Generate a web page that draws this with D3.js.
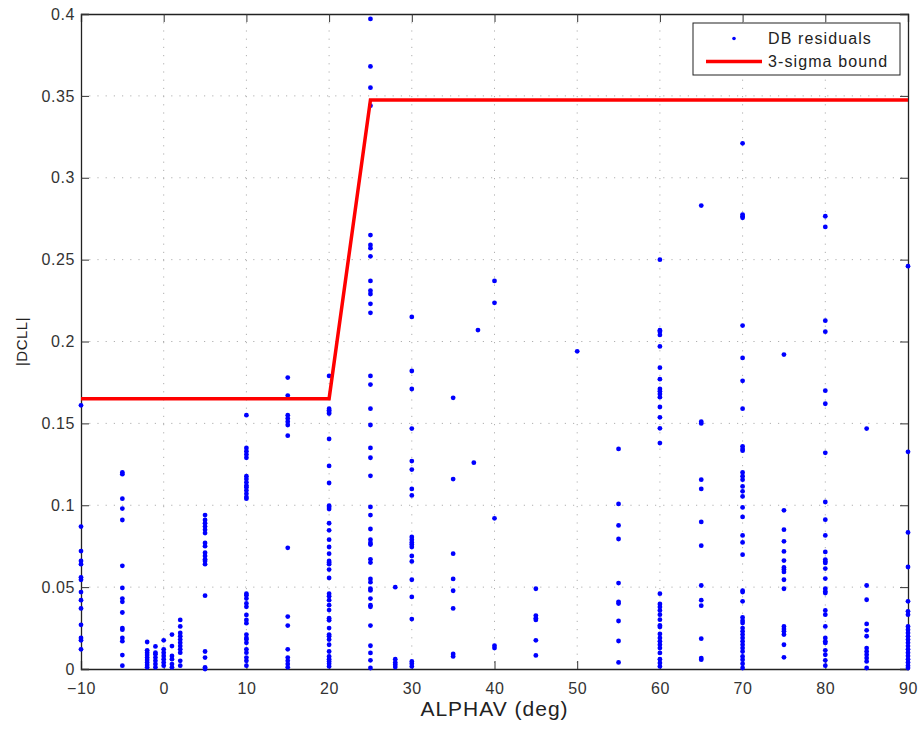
<!DOCTYPE html>
<html>
<head>
<meta charset="UTF-8">
<title>DB residuals</title>
<script src="https://d3js.org/d3.v7.min.js"></script>
<style>
  body { margin: 0; background: #fff; }
  text { font-family: "Liberation Sans", Arial, sans-serif; }
</style>
</head>
<body>
<div id="chart"></div>
<script>
// alpha values (deg) of each column of residuals
const alphaGroups = [-10, -5, -2, -1, 0, 1, 2, 5, 10, 15, 20, 25, 28, 30, 35, 37.5, 38, 40, 45, 50, 55, 60, 65, 70, 75, 80, 85, 90];

// |DCLL| residuals read for each column, same order as alphaGroups
const residualGroups = [
  [0.161, 0.087, 0.072, 0.066, 0.064, 0.056, 0.0545, 0.047, 0.042, 0.037, 0.027, 0.019, 0.0175, 0.012],
  [0.120, 0.119, 0.104, 0.098, 0.091, 0.063, 0.0495, 0.043, 0.041, 0.0345, 0.025, 0.024, 0.019, 0.017, 0.0085, 0.002],
  [0.0165, 0.0114, 0.010, 0.0085, 0.007, 0.0055, 0.004, 0.0025, 0.001],
  [0.0138, 0.010, 0.009, 0.007, 0.005, 0.003, 0.001],
  [0.0175, 0.012, 0.010, 0.008, 0.006, 0.004, 0.002],
  [0.021, 0.014, 0.008, 0.006, 0.003, 0.001],
  [0.030, 0.026, 0.022, 0.020, 0.018, 0.016, 0.014, 0.012, 0.010, 0.005, 0.002],
  [0.094, 0.091, 0.089, 0.087, 0.085, 0.083, 0.077, 0.075, 0.071, 0.069, 0.067, 0.066, 0.064, 0.0448, 0.0107, 0.007, 0.001, 0.0],
  [0.155, 0.135, 0.133, 0.131, 0.129, 0.1177, 0.116, 0.114, 0.112, 0.111, 0.109, 0.107, 0.105, 0.104,
   0.046, 0.045, 0.043, 0.040, 0.038, 0.033, 0.030, 0.028, 0.021, 0.019, 0.018, 0.016, 0.012, 0.010, 0.007, 0.005, 0.002],
  [0.178, 0.167, 0.155, 0.153, 0.151, 0.149, 0.1425, 0.074, 0.032, 0.0265, 0.012, 0.007, 0.005, 0.003, 0.001],
  [0.179, 0.159, 0.158, 0.157, 0.156, 0.1405, 0.124, 0.1136, 0.0997, 0.099, 0.0977, 0.089, 0.0847, 0.079,
   0.0745, 0.0704, 0.066, 0.065, 0.064, 0.0607, 0.0556, 0.046, 0.0444, 0.042, 0.039, 0.036, 0.031, 0.0297,
   0.025, 0.021, 0.020, 0.018, 0.0148, 0.0107, 0.0077, 0.006, 0.0046, 0.0032, 0.0016],
  [0.397, 0.368, 0.355, 0.344, 0.265, 0.259, 0.257, 0.252, 0.237, 0.231, 0.229, 0.223, 0.2175, 0.179,
   0.1737, 0.159, 0.149, 0.135, 0.129, 0.118, 0.099, 0.094, 0.0855, 0.079, 0.077, 0.076, 0.067, 0.065,
   0.055, 0.053, 0.049, 0.048, 0.043, 0.039, 0.038, 0.0265, 0.0142, 0.0098, 0.0053, 0.0006],
  [0.050, 0.006, 0.004, 0.0026, 0.0012],
  [0.215, 0.182, 0.171, 0.1468, 0.127, 0.1218, 0.110, 0.106, 0.0806, 0.079, 0.0773, 0.076, 0.0745, 0.069,
   0.0657, 0.0545, 0.044, 0.0305, 0.0046, 0.0032, 0.0016],
  [0.1656, 0.116, 0.0704, 0.055, 0.0478, 0.037, 0.0092, 0.0077],
  [0.126],
  [0.207],
  [0.237, 0.2236, 0.092, 0.0142, 0.0128],
  [0.049, 0.0326, 0.031, 0.030, 0.0175, 0.0083],
  [0.194],
  [0.1344, 0.1008, 0.0877, 0.0794, 0.0525, 0.041, 0.040, 0.0293, 0.0171, 0.004],
  [0.250, 0.2069, 0.206, 0.204, 0.197, 0.184, 0.177, 0.171, 0.1696, 0.168, 0.166, 0.160, 0.1537, 0.147, 0.138,
   0.046, 0.0397, 0.0379, 0.0358, 0.0332, 0.0301, 0.0266, 0.0257, 0.0214, 0.019, 0.0169, 0.0148, 0.0128,
   0.0098, 0.006, 0.0037, 0.0016],
  [0.283, 0.151, 0.150, 0.1156, 0.110, 0.0898, 0.0753, 0.051, 0.042, 0.0387, 0.0185, 0.0067, 0.0057],
  [0.321, 0.2775, 0.2765, 0.2755, 0.2097, 0.190, 0.176, 0.159, 0.136, 0.1344, 0.1333, 0.120, 0.1177, 0.1156,
   0.1115, 0.1085, 0.1054, 0.0987, 0.0929, 0.0816, 0.0773, 0.0698, 0.0478, 0.047, 0.0413, 0.0315, 0.0295,
   0.0281, 0.025, 0.023, 0.021, 0.019, 0.0169, 0.0148, 0.0128, 0.0107, 0.0077, 0.0057, 0.0032, 0.0006],
  [0.192, 0.0969, 0.0851, 0.078, 0.0718, 0.0662, 0.062, 0.0607, 0.0593, 0.0545, 0.049, 0.026, 0.0244, 0.023,
   0.021, 0.0148, 0.0071],
  [0.2765, 0.270, 0.2127, 0.206, 0.170, 0.162, 0.132, 0.102, 0.0912, 0.0816, 0.0715, 0.0668, 0.0657, 0.0648,
   0.0613, 0.0552, 0.049, 0.0474, 0.0464, 0.0358, 0.0332, 0.026, 0.019, 0.0169, 0.0159, 0.0114, 0.0087,
   0.0053, 0.002],
  [0.1468, 0.051, 0.0423, 0.0275, 0.0236, 0.020, 0.0128, 0.0107, 0.0087, 0.0067, 0.0046, 0.0006],
  [0.246, 0.1326, 0.0834, 0.0623, 0.0413, 0.0352, 0.0332, 0.026, 0.024, 0.022, 0.020, 0.018, 0.016, 0.014,
   0.012, 0.010, 0.008, 0.006, 0.004, 0.002, 0.0006]
];

// 3-sigma bound
const boundAlpha = [-10, 20, 25, 90];
const boundDcll = [0.165, 0.165, 0.3475, 0.3475];

const xTicks = [-10, 0, 10, 20, 30, 40, 50, 60, 70, 80, 90];
const yTicks = [0, 0.05, 0.1, 0.15, 0.2, 0.25, 0.3, 0.35, 0.4];
const legendLabels = ["DB residuals", "3-sigma bound"];

const width = 924, height = 753;
const margin = { top: 14, right: 16, bottom: 84, left: 81 };
const iw = width - margin.left - margin.right;
const ih = height - margin.top - margin.bottom;

const svg = d3.select("#chart").append("svg")
  .attr("width", width)
  .attr("height", height);

const g = svg.append("g").attr("transform", `translate(${margin.left},${margin.top})`);

const x = d3.scaleLinear().domain([-10, 90]).range([0, iw]);
const y = d3.scaleLinear().domain([0, 0.4]).range([ih, 0]);

// dotted grid
g.append("g").selectAll("line").data(xTicks.slice(1, -1)).join("line")
  .attr("x1", d => x(d)).attr("x2", d => x(d))
  .attr("y1", 0).attr("y2", ih)
  .attr("stroke", "#b0b0b0").attr("stroke-width", 1).attr("stroke-dasharray", "1.2,7");
g.append("g").selectAll("line").data(yTicks.slice(1, -1)).join("line")
  .attr("x1", 0).attr("x2", iw)
  .attr("y1", d => y(d)).attr("y2", d => y(d))
  .attr("stroke", "#b0b0b0").attr("stroke-width", 1).attr("stroke-dasharray", "1.2,7");

// axes, ticks inward like matlab
const fmtY = d => d === 0 ? "0" : String(d);
const xAxis = g.append("g").attr("transform", `translate(0,${ih})`)
  .call(d3.axisBottom(x).tickValues(xTicks).tickSize(-8).tickPadding(14).tickFormat(d => d < 0 ? "\u2212" + Math.abs(d) : d));
const xTop = g.append("g")
  .call(d3.axisTop(x).tickValues(xTicks).tickSize(-8).tickFormat(""));
const yAxis = g.append("g")
  .call(d3.axisLeft(y).tickValues(yTicks).tickSize(-8).tickPadding(6).tickFormat(fmtY));
const yRight = g.append("g").attr("transform", `translate(${iw},0)`)
  .call(d3.axisRight(y).tickValues(yTicks).tickSize(-8).tickFormat(""));

[xAxis, xTop, yAxis, yRight].forEach(a => {
  a.select(".domain").attr("stroke", "#222").attr("stroke-width", 1.3);
  a.selectAll(".tick line").attr("stroke", "#333").attr("stroke-width", 1);
  a.selectAll("text").attr("font-size", 16).attr("fill", "#333")
    .style("letter-spacing", "0.6px")
    .style("font-family", "'Liberation Sans', Arial, sans-serif");
});

// residual points
const pts = [];
alphaGroups.forEach((a, i) => residualGroups[i].forEach(v => pts.push([a, v])));
g.append("g").selectAll("circle").data(pts).join("circle")
  .attr("cx", d => x(d[0]))
  .attr("cy", d => y(d[1]))
  .attr("r", 2.4)
  .attr("fill", "#0000ff");

// bound line
const line = d3.line().x(d => x(d[0])).y(d => y(d[1]));
g.append("path")
  .datum(boundAlpha.map((a, i) => [a, boundDcll[i]]))
  .attr("d", line)
  .attr("fill", "none")
  .attr("stroke", "#ff0000")
  .attr("stroke-width", 3.5);

// axis labels
svg.append("text")
  .attr("x", margin.left + iw / 2).attr("y", 716)
  .attr("text-anchor", "middle")
  .attr("font-size", 21).attr("fill", "#222")
  .style("letter-spacing", "1px")
  .text("ALPHAV (deg)");
svg.append("text")
  .attr("transform", `translate(27,${margin.top + ih / 2}) rotate(-90)`)
  .attr("text-anchor", "middle")
  .attr("font-size", 15).attr("fill", "#222")
  .style("letter-spacing", "0.5px")
  .text("|DCLL|");

// legend
const lg = svg.append("g").attr("transform", "translate(693,23)");
lg.append("rect").attr("width", 207).attr("height", 52)
  .attr("fill", "#fff").attr("stroke", "#222").attr("stroke-width", 1);
lg.append("circle").attr("cx", 41).attr("cy", 15.5).attr("r", 1.8).attr("fill", "#0000ff");
lg.append("line").attr("x1", 13).attr("x2", 69).attr("y1", 38.5).attr("y2", 38.5)
  .attr("stroke", "#ff0000").attr("stroke-width", 3.5);
lg.selectAll("text.lab").data(legendLabels).join("text")
  .attr("class", "lab")
  .attr("x", 75).attr("y", (d, i) => 21 + i * 23)
  .attr("font-size", 16).attr("fill", "#222")
  .style("letter-spacing", "1.1px")
  .text(d => d);
</script>
</body>
</html>
